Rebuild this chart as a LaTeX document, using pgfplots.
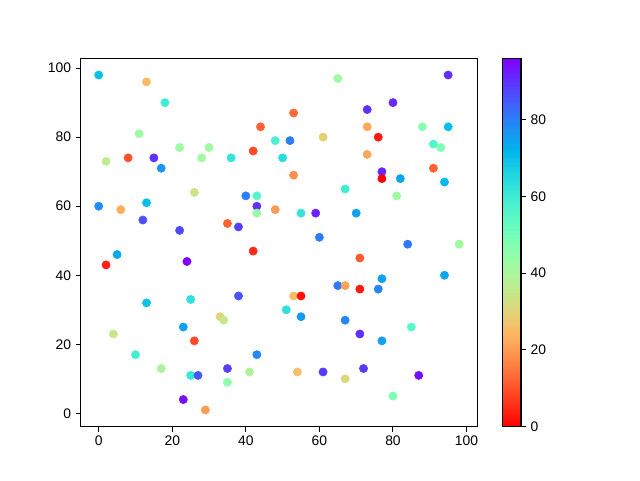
\documentclass[border=0pt]{standalone}
\usepackage{fontspec}
\setmainfont{Liberation Sans}
\usepackage{pgfplots}
\pgfplotsset{compat=1.18}
% matplotlib rainbow, reversed (red at 0, violet at max)
\pgfplotsset{colormap={rainbowr}{rgb=(1,0,0) rgb=(1,0.195,0.098) rgb=(1,0.383,0.195)
  rgb=(1,0.556,0.290) rgb=(1,0.707,0.383) rgb=(0.875,0.831,0.471) rgb=(0.75,0.924,0.556)
  rgb=(0.625,0.981,0.634) rgb=(0.5,1,0.707) rgb=(0.375,0.981,0.773) rgb=(0.25,0.924,0.831)
  rgb=(0.125,0.831,0.882) rgb=(0,0.707,0.924) rgb=(0.125,0.556,0.957) rgb=(0.25,0.383,0.981)
  rgb=(0.375,0.195,0.995) rgb=(0.5,0,1)}}

\pgfplotstableread{
x y c
0 98 70
13 96 25
18 90 60
11 81 42
44 83 12
48 79 58
22 77 42
30 77 42
2 73 37
8 74 10
15 74 90
28 74 42
36 74 62
50 74 64
42 76 9
17 71 77
26 64 34
40 63 80
43 63 56
43 60 90
43 58 43
48 59 20
0 60 78
6 59 23
13 61 70
12 56 86
22 53 87
35 55 12
38 54 88
42 47 5
65 97 42
95 98 90
80 90 91
73 88 90
53 87 13
73 83 22
76 80 3
88 83 46
95 83 70
52 79 80
61 80 29
91 78 56
93 77 48
73 75 22
53 69 18
77 70 91
77 68 0
82 68 74
91 71 12
94 67 71
67 65 60
81 63 42
55 58 62
59 58 92
70 58 75
60 51 80
84 49 81
98 49 42
5 46 74
2 43 4
24 44 96
13 32 69
25 33 63
38 34 86
33 28 30
34 27 35
23 25 75
4 23 35
26 21 9
10 17 59
43 17 79
17 13 40
25 11 61
27 11 85
35 13 88
41 12 39
35 9 45
23 4 94
29 1 20
71 45 11
94 40 74
77 39 75
65 37 81
67 37 21
71 36 3
76 36 79
53 34 25
55 34 2
51 30 63
55 28 76
67 27 79
85 25 55
71 23 90
77 21 75
54 12 26
61 12 89
72 13 89
67 10 31
87 11 94
80 5 48
}\pts

\begin{document}
\begin{tikzpicture}
\path[use as bounding box] (-60.5pt,-40pt) rectangle (419.5pt,320pt);
\begin{axis}[
  at={(0,0)}, anchor=south west,
  scale only axis, width=297.4pt, height=276.3pt,
  xmin=-4.9, xmax=102.9, ymin=-3.85, ymax=102.85,
  xtick={0,20,...,100}, ytick={0,20,...,100},
  tick align=outside, xtick pos=left, ytick pos=left,
  major tick length=3.65pt,
  axis line style={line width=0.8pt},
  every tick/.style={black, line width=0.8pt},
  tick label style={font=\fontsize{10.4}{12}\selectfont},
  /pgf/number format/assume math mode=true,
  colormap name=rainbowr,
  point meta min=0, point meta max=96,
  colorbar,
  colorbar style={
    at={(parent axis.north east)}, anchor=north west, xshift=10.5pt,
    scale only axis, width=13.8pt, height=276.3pt,
    ytick={0,20,...,80}, ytick pos=right, yticklabel pos=right,
    tick align=outside, major tick length=3.65pt,
    axis line style={line width=0.8pt},
    every tick/.style={black, line width=0.8pt},
    tick label style={font=\fontsize{10.4}{12}\selectfont},
    /pgf/number format/assume math mode=true,
  },
]
\addplot[scatter, only marks, mark=*, mark size=3.1pt,
  scatter/use mapped color={draw=mapped color, fill=mapped color},
  point meta=explicit] table[meta=c] {\pts};
\end{axis}
\end{tikzpicture}
\end{document}
